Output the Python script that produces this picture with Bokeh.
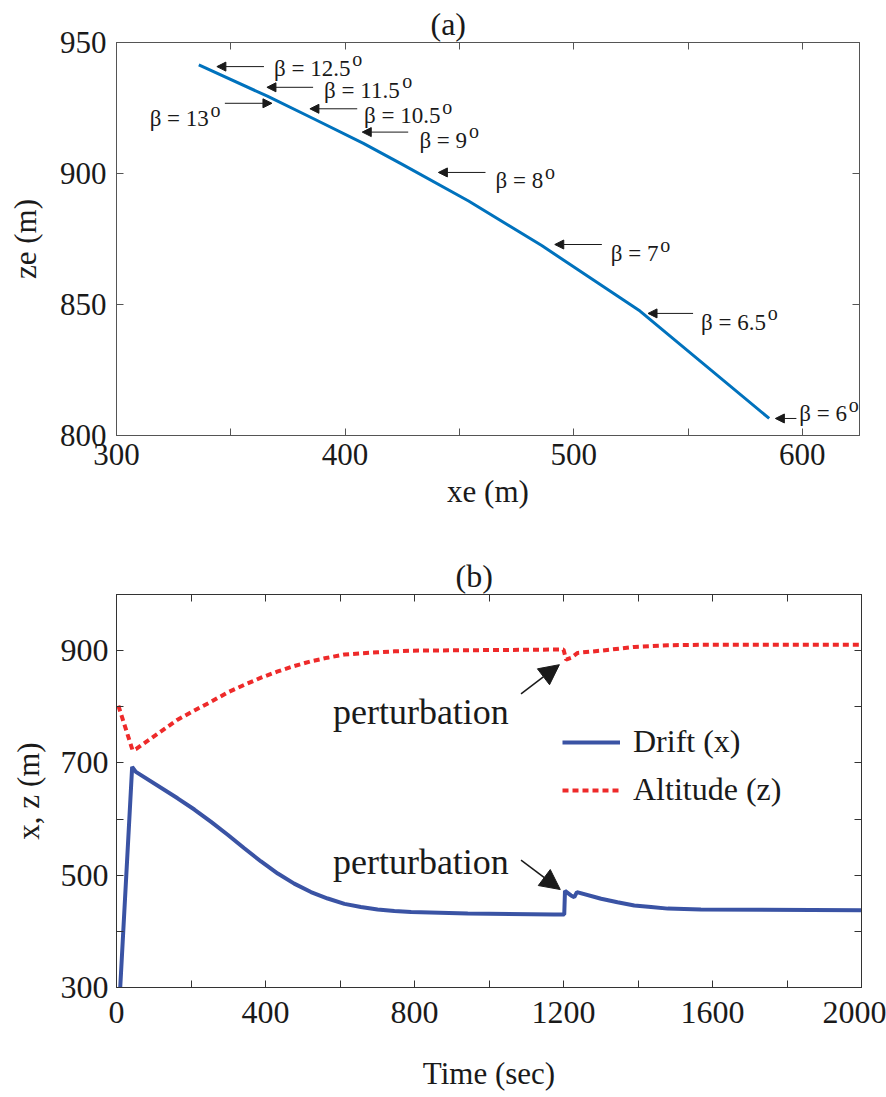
from bokeh.plotting import figure
from bokeh.models import (ColumnDataSource, Range1d, FixedTicker, LinearAxis, Arrow,
                          NormalHead, Legend, LegendItem)
from bokeh.layouts import column
from bokeh.core.properties import value
from bokeh.embed import file_html
from bokeh.resources import INLINE

FONT = "Liberation Serif"

# ---------------- (a) data ----------------
xe_pos = [336, 366, 386, 408, 425, 454, 486, 529, 585.5]
ze_pos = [941.5, 929.5, 921, 911.5, 903.5, 889.5, 872.5, 847.5, 806.5]

beta_values = ["12.5", "11.5", "13", "10.5", "9", "8", "7", "6.5", "6"]
beta_text_x = [368.9, 390.8, 314.5, 408.3, 432.5, 465.8, 516.2, 555.7, 598.7]
beta_text_y = [940.1, 931.7, 920.9, 922.1, 912.6, 897.3, 869.4, 843.2, 808.3]
arrow_tail_x = [364.5, 386.0, 347.4, 405.3, 427.6, 461.4, 512.3, 552.2, 597.4]
arrow_tip_x = [343.9, 365.8, 368.0, 384.6, 407.5, 440.8, 491.7, 532.5, 588.2]
arrow_y = [940.8, 932.9, 926.8, 924.7, 915.8, 900.4, 872.9, 846.6, 806.5]

xa_ticks = [300, 400, 500, 600]
xa_minor = [350, 450, 550]
ya_ticks = [800, 850, 900, 950]

# ---------------- (b) data ----------------
t_drift = [10, 42, 52, 164, 209, 254, 298.5, 343, 388, 433, 477, 522, 567, 612, 656,
           701, 746, 791, 943, 1175, 1202, 1204, 1220, 1229, 1236, 1301, 1345, 1390,
           1435, 1480, 1524, 1569, 2000]
drift = [300, 693, 684, 637, 617, 595, 572, 548, 524.5, 503, 485, 470, 458.5, 449, 443.5,
         439, 436.3, 434.5, 431.6, 430, 430, 472, 464, 461, 470, 458, 451.8, 446,
         443.4, 440.5, 439.8, 439, 437.5]
t_alt = [5, 43, 52, 164, 209, 254, 298.5, 343, 388, 433, 477, 522, 567, 612, 656, 701,
         746, 791, 1193, 1200, 1207, 1220, 1238, 1301, 1390, 1480, 1569, 2000]
alt = [802, 723, 724.5, 777, 793.4, 809, 825.6, 839, 851.8, 863, 872.6, 881, 887.5, 893,
       895.2, 897, 898.8, 900, 902, 902, 884, 887, 896, 900, 906.6, 909.5, 910.5, 910.7]

pert_text = ["perturbation", "perturbation"]
pert_text_t = [581, 581]
pert_text_z = [791.6, 523.7]
pert_tail_t = [1086, 1086]
pert_tail_z = [823, 526.8]
pert_tip_t = [1189, 1191.4]
pert_tip_z = [875, 474.5]

xb_ticks = [0, 400, 800, 1200, 1600, 2000]
xb_minor = [200, 600, 1000, 1400, 1800]
yb_ticks = [300, 500, 700, 900]
yb_minor = [400, 600, 800, 1000]


def style_axis(ax, color, label_size="31px", standoff=8):
    ax.axis_line_color = color
    ax.major_tick_line_color = color
    ax.minor_tick_line_color = color
    ax.major_tick_in = 7
    ax.major_tick_out = 0
    ax.minor_tick_in = 7
    ax.minor_tick_out = 0
    ax.major_label_text_font = FONT
    ax.major_label_text_color = "#1a1a1a"
    ax.major_label_text_font_size = label_size
    ax.major_label_standoff = standoff
    ax.axis_label_text_font = FONT
    ax.axis_label_text_font_style = "normal"
    ax.axis_label_text_font_size = "31px"
    ax.axis_label_text_color = "#1a1a1a"


def tick_only_axis(ticks, color):
    # frame-side axis with tick marks only (all drawn as unlabelled minor ticks)
    ax = LinearAxis(ticker=FixedTicker(ticks=[], minor_ticks=ticks))
    ax.axis_line_color = color
    ax.minor_tick_line_color = color
    ax.minor_tick_in = 7
    ax.minor_tick_out = 0
    ax.major_tick_in = 0
    ax.major_tick_out = 0
    ax.major_label_standoff = 0
    return ax


def base_fig(xr, yr, fw, fh, left, right, top, bottom, title):
    p = figure(x_range=xr, y_range=yr, frame_width=fw, frame_height=fh,
               min_border_left=left, min_border_right=right, min_border_top=top,
               min_border_bottom=bottom, output_backend="svg", toolbar_location=None,
               title=title)
    p.xgrid.visible = False
    p.ygrid.visible = False
    p.title.text_font = FONT
    p.title.text_font_style = "normal"
    p.title.text_font_size = "32px"
    p.title.text_color = "#1a1a1a"
    p.title.align = "left"
    p.title.standoff = 2
    p.background_fill_color = "white"
    p.border_fill_color = "white"
    return p


# ================= figure (a) =================
p1 = base_fig(Range1d(300, 625), Range1d(800, 950), 743, 393, 114, 29, 42, 95, "(a)")
p1.title.offset = 314
p1.outline_line_color = "#666666"
frame_col_a = "#555555"

p1.xaxis.ticker = FixedTicker(ticks=xa_ticks, minor_ticks=xa_minor)
p1.yaxis.ticker = FixedTicker(ticks=ya_ticks)
p1.xaxis.axis_label = "xe (m)"
p1.yaxis.axis_label = "ze (m)"
style_axis(p1.xaxis[0], frame_col_a, standoff=8)
style_axis(p1.yaxis[0], frame_col_a, standoff=10)
p1.xaxis.axis_label_standoff = 6
p1.yaxis.axis_label_standoff = 14

p1.add_layout(tick_only_axis(xa_ticks + xa_minor, frame_col_a), "above")
p1.add_layout(tick_only_axis(ya_ticks, frame_col_a), "right")

p1.line(xe_pos, ze_pos, line_color="#0072BD", line_width=3)

FS = 23
beta_main = ["\u03b2 = " + v for v in beta_values]
sup_off = [FS * (0.5 + 1.064 + 0.5 * sum(c.isdigit() for c in v) + 0.25 * v.count(".")) + 2
           for v in beta_values]
src_beta = ColumnDataSource(dict(x=beta_text_x, y=beta_text_y, text=beta_main,
                                 sup=["o"] * len(beta_values), off=sup_off))
p1.text(x="x", y="y", text="text", source=src_beta, text_font=value(FONT),
        text_font_size=f"{FS}px", text_baseline="alphabetic", text_align="left",
        text_color="#1a1a1a")
p1.text(x="x", y="y", text="sup", source=src_beta, x_offset="off", y_offset=-9,
        text_font=value(FONT), text_font_size="20px", text_baseline="alphabetic",
        text_align="left", text_color="#1a1a1a")

src_arr = ColumnDataSource(dict(xs=arrow_tail_x, xe=arrow_tip_x, ys=arrow_y, ye=arrow_y))
p1.add_layout(Arrow(x_start="xs", y_start="ys", x_end="xe", y_end="ye", source=src_arr,
                    line_color="#1a1a1a", line_width=1,
                    end=NormalHead(size=9, fill_color="#1a1a1a", line_color="#1a1a1a")))

# ================= figure (b) =================
p2 = base_fig(Range1d(0, 2000), Range1d(300, 1000), 745, 393, 116, 25, 64, 110, "(b)")
p2.title.offset = 339
p2.outline_line_color = "#333333"
frame_col_b = "#333333"

p2.xaxis.ticker = FixedTicker(ticks=xb_ticks, minor_ticks=xb_minor)
p2.yaxis.ticker = FixedTicker(ticks=yb_ticks, minor_ticks=yb_minor)
p2.xaxis.axis_label = "Time (sec)"
p2.yaxis.axis_label = "x, z (m)"
style_axis(p2.xaxis[0], frame_col_b, label_size="32px", standoff=14)
style_axis(p2.yaxis[0], frame_col_b, label_size="32px", standoff=8)
p2.xaxis.axis_label_standoff = 30
p2.yaxis.axis_label_standoff = 12

p2.add_layout(tick_only_axis(xb_ticks + xb_minor, frame_col_b), "above")
p2.add_layout(tick_only_axis(yb_ticks + yb_minor, frame_col_b), "right")

r_drift = p2.line(t_drift, drift, line_color="#3A53A4", line_width=4)
r_alt = p2.line(t_alt, alt, line_color="#EE2A2A", line_width=4, line_dash="6 4")

src_pert = ColumnDataSource(dict(x=pert_text_t, y=pert_text_z, text=pert_text))
p2.text(x="x", y="y", text="text", source=src_pert, text_font=value(FONT),
        text_font_size="36px", text_baseline="alphabetic", text_align="left",
        text_color="#1a1a1a")
src_parr = ColumnDataSource(dict(xs=pert_tail_t, ys=pert_tail_z, xe=pert_tip_t, ye=pert_tip_z))
p2.add_layout(Arrow(x_start="xs", y_start="ys", x_end="xe", y_end="ye", source=src_parr,
                    line_color="#1a1a1a", line_width=1.5,
                    end=NormalHead(size=20, fill_color="#1a1a1a", line_color="#1a1a1a")))

legend = Legend(items=[LegendItem(label="Drift (x)", renderers=[r_drift]),
                       LegendItem(label="Altitude (z)", renderers=[r_alt])],
                location=(446, 179))
legend.label_text_font = FONT
legend.label_text_font_size = "32px"
legend.label_text_color = "#1a1a1a"
legend.glyph_width = 58
legend.glyph_height = 30
legend.label_height = 30
legend.label_standoff = 13
legend.spacing = 11
legend.padding = 0
legend.margin = 0
legend.border_line_alpha = 0
legend.background_fill_alpha = 0
p2.add_layout(legend)

layout = column(p1, p2, spacing=0)
with open("out.html", "w") as f:
    f.write(file_html(layout, INLINE))
